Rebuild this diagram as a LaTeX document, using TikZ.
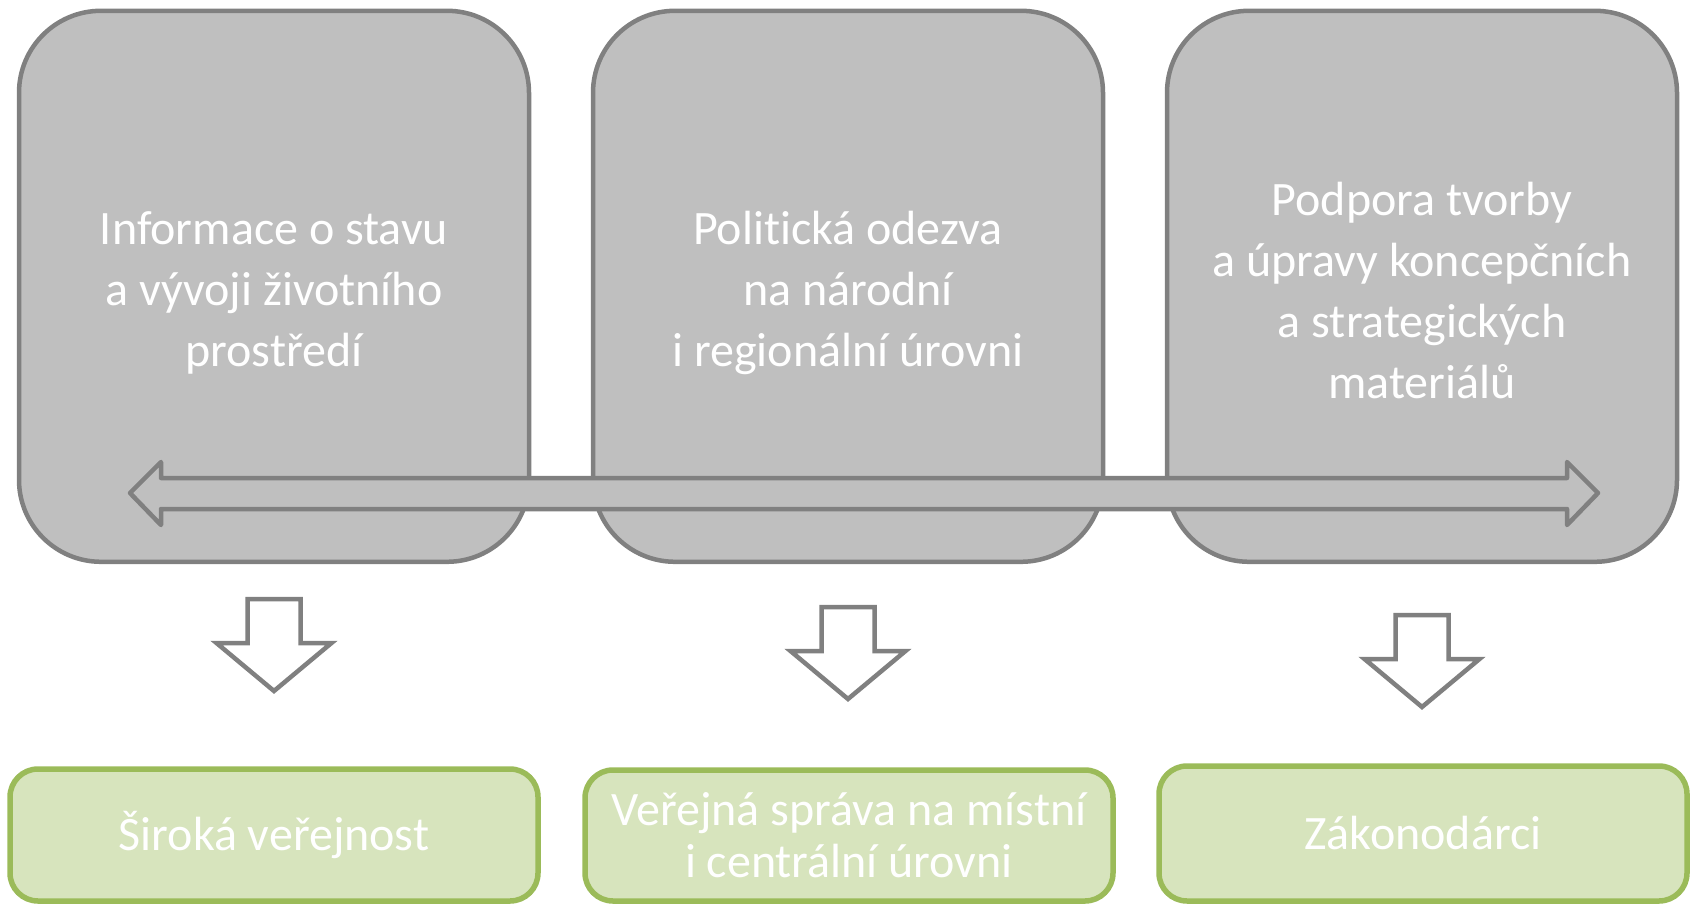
\documentclass[tikz,border=0pt]{standalone}
\usepackage{fontspec}
\setmainfont{Carlito}[Ligatures=NoCommon]
\definecolor{boxgray}{HTML}{BFBFBF}
\definecolor{linegray}{HTML}{808080}
\definecolor{greenfill}{HTML}{D7E4BD}
\definecolor{greenline}{HTML}{9BBB59}
\begin{document}
\begin{tikzpicture}[x=1pt,y=-1pt,
  graybox/.style={draw=linegray, fill=boxgray, line width=4.5pt, rounded corners=82pt,
    minimum width=510pt, minimum height=551pt, inner sep=0pt},
  graytext/.style={text=white, align=center, inner sep=0pt,
    font=\fontsize{48}{61}\selectfont},
  greenbox/.style={draw=greenline, fill=greenfill, line width=5.5pt, rounded corners=28pt,
    minimum width=528pt, inner sep=0pt, text=white, align=center,
    font=\fontsize{48}{52}\selectfont},
  downarrow/.style={draw=linegray, fill=white, line width=4.5pt},
  bandarrow/.style={draw=linegray, fill=boxgray, line width=4.5pt, line join=round}]
\useasboundingbox (0,0) rectangle (1691,904);

% top boxes
\node[graybox] (b1) at (274,286.3) {};
\node[graybox] (b2) at (848,286.3) {};
\node[graybox] (b3) at (1422,286.3) {};
\node[graytext] (t1) at ([yshift=-7pt]b1.center) {Informace o stavu\\a vývoji životního\\prostředí};
\node[graytext] (t2) at ([yshift=-7pt]b2.center) {Politická odezva\\na národní\\i regionální úrovni};
\node[graytext] (t3) at ([yshift=-4pt]b3.center) {Podpora tvorby\\a úpravy koncepčních\\a strategických\\materiálů};

% double block arrow across
\coordinate (bl) at (130,493);
\coordinate (br) at (1598,493);
\draw[bandarrow] (bl) -- ++(31,-31) -- ++(0,16) -- ++(1406,0) -- ++(0,-16) -- (br)
  -- ++(-31,32) -- ++(0,-16) -- ++(-1406,0) -- ++(0,16) -- cycle;

% down arrows
\coordinate (a1) at (274,599);
\coordinate (a2) at (848,607);
\coordinate (a3) at (1422,615);
\foreach \a in {a1,a2,a3}{
  \draw[downarrow] (\a) ++(-26.5,0) -- ++(53,0) -- ++(0,44) -- ++(31,0) -- ++(-57.5,48)
    -- ++(-57.5,-48) -- ++(31,0) -- cycle;
}

% bottom boxes
\node[greenbox, minimum height=132pt] (g1) at (274,835) {Široká veřejnost};
\node[greenbox, minimum height=131pt] (g2) at (849,835.5) {Veřejná správa na místní\\i centrální úrovni};
\node[greenbox, minimum height=135pt] (g3) at (1423,833.5) {Zákonodárci};
\end{tikzpicture}
\end{document}
